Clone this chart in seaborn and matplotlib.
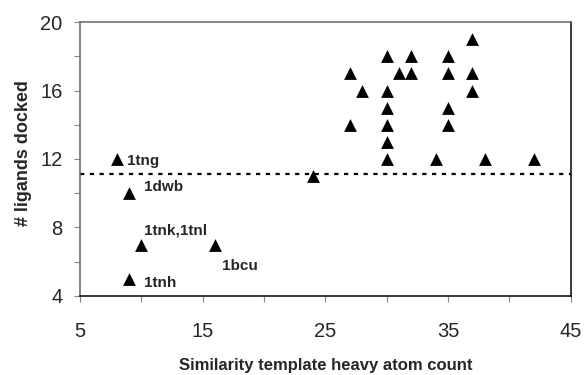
import matplotlib
matplotlib.use("Agg")
import matplotlib.pyplot as plt
import seaborn as sns
import pandas as pd

# template heavy atom count vs number of ligands docked
heavy_atoms = [8, 9, 10, 16, 9, 24,
               37, 30, 32, 35, 27, 31, 32, 35, 37, 28, 30, 37,
               30, 35, 27, 30, 35, 30, 30, 34, 38, 42]
ligands_docked = [12, 10, 7, 7, 5, 11,
                  19, 18, 18, 18, 17, 17, 17, 17, 17, 16, 16, 16,
                  15, 15, 14, 14, 14, 13, 12, 12, 12, 12]

threshold = 11.1

# labelled templates: (x, y, text, offset in points)
label_x = [8, 9, 10, 16, 9]
label_y = [12, 10, 7, 7, 5]
label_text = ["1tng", "1dwb", "1tnk,1tnl", "1bcu", "1tnh"]
label_offset = [(7.7, -1.7), (10.6, 4.3), (1.9, 10), (4.8, -15.6), (10.6, -2.7)]

sns.set_style("white")
plt.rcParams['font.family'] = ['Liberation Sans', 'DejaVu Sans']

df = pd.DataFrame({"atoms": heavy_atoms, "docked": ligands_docked})

fig, ax = plt.subplots(figsize=(5.84, 3.75), dpi=100)
fig.subplots_adjust(left=0.137, right=0.977, top=0.941, bottom=0.211)

sns.scatterplot(data=df, x="atoms", y="docked", marker="^", s=85,
                color="black", edgecolor="black", linewidth=0, ax=ax, zorder=3)
ax.axhline(threshold, color="black", lw=1.6, linestyle=(0, (1.9, 2.5)), zorder=2)

for x, y, t, off in zip(label_x, label_y, label_text, label_offset):
    ax.annotate(t, (x, y), xytext=off, textcoords="offset points",
                ha="left", va="center", fontsize=11, fontweight="bold")

ax.set_xlim(5, 45)
ax.set_ylim(4, 20)
ax.set_xticks([5, 15, 25, 35, 45])
ax.set_xticks([10, 20, 30, 40], minor=True)
ax.set_yticks([4, 8, 12, 16, 20])
ax.set_yticks([6, 10, 14, 18], minor=True)
ax.tick_params(which="both", direction="out", length=4, width=0.8,
               color="#888888", bottom=True, left=True)
ax.tick_params(axis="x", which="major", labelsize=14.5, pad=15)
ax.tick_params(axis="y", which="major", labelsize=14.5, pad=8.5)

ax.spines["top"].set_color("#666666")
ax.spines["left"].set_color("#666666")
ax.spines["right"].set_color("black")
ax.spines["bottom"].set_color("black")
for s in ax.spines.values():
    s.set_linewidth(1.1)

ax.set_xlabel("Similarity template heavy atom count", fontsize=12,
              fontweight="bold", labelpad=12)
ax.set_ylabel("# ligands docked", fontsize=13, fontweight="bold", labelpad=3.5)
ax.yaxis.set_label_coords(-0.097, 0.52)

fig.savefig("out.png", dpi=100)
